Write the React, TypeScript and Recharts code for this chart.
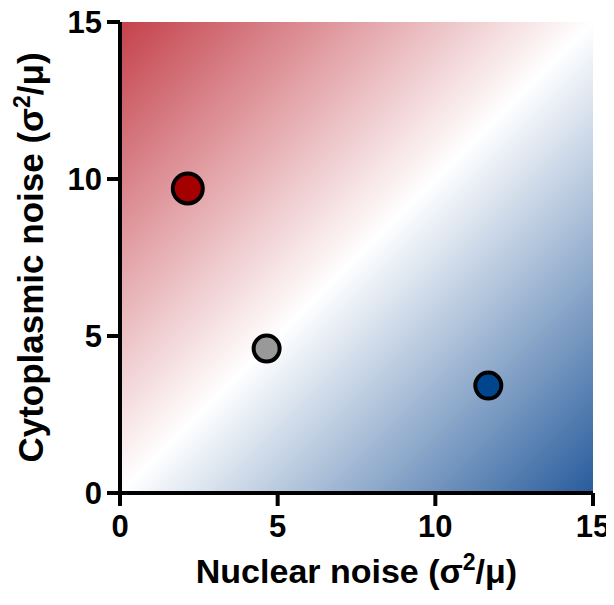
import React from "react";
import {
  ScatterChart,
  Scatter,
  XAxis,
  YAxis,
  ReferenceArea,
  Cell,
} from "recharts";

const nuclearNoise = [2.15, 4.65, 11.68];
const cytoplasmicNoise = [9.7, 4.6, 3.42];
const pointFills = ["#a50000", "#999999", "#00468f"];
const pointRadii = [15, 13, 13];
const axisTicks = [0, 5, 10, 15];

const data = nuclearNoise.map((x, i) => ({ x, y: cytoplasmicNoise[i], i }));

const FONT = "'Liberation Sans', Arial, Helvetica, sans-serif";

const Dot = (props: any) => {
  const { cx, cy, payload } = props;
  const i = payload.i;
  return (
    <circle
      cx={cx}
      cy={cy}
      r={pointRadii[i]}
      fill={pointFills[i]}
      stroke="#000"
      strokeWidth={4}
    />
  );
};

const XLabel = (props: any) => {
  const vb = props.viewBox;
  const cx = vb.x + vb.width / 2;
  return (
    <text
      x={cx}
      y={vb.y + 90}
      textAnchor="middle"
      fontFamily={FONT}
      fontWeight="bold"
      fontSize={34}
      fill="#000"
    >
      Nuclear noise (σ
      <tspan dy={-13} fontSize={23}>2</tspan>
      <tspan dy={13}>/μ)</tspan>
    </text>
  );
};

const YLabel = (props: any) => {
  const vb = props.viewBox;
  const x = vb.x + 43;
  const y = vb.y + vb.height / 2;
  return (
    <text
      x={x}
      y={y}
      transform={`rotate(-90, ${x}, ${y})`}
      textAnchor="middle"
      fontFamily={FONT}
      fontWeight="bold"
      fontSize={35}
      fill="#000"
    >
      Cytoplasmic noise (σ
      <tspan dy={-13} fontSize={23}>2</tspan>
      <tspan dy={13}>/μ)</tspan>
    </text>
  );
};

export default function App() {
  const tickStyle = {
    fontFamily: FONT,
    fontWeight: "bold" as const,
    fontSize: 31,
    fill: "#000",
  };
  return (
    <div style={{ width: 614, height: 605, margin: "-8px" }}>
      <svg width={0} height={0} style={{ position: "absolute" }}>
        <defs>
          <linearGradient id="bgGrad" x1="0" y1="0" x2="1" y2="1">
            <stop offset="0" stopColor="#c4414b" />
            <stop offset="0.5" stopColor="#ffffff" />
            <stop offset="1" stopColor="#285c9c" />
          </linearGradient>
        </defs>
      </svg>
      <ScatterChart
        width={614}
        height={605}
        margin={{ top: 22, right: 21, bottom: 0, left: 0 }}
      >
        <ReferenceArea
          x1={0}
          x2={15}
          y1={0}
          y2={15}
          fill="url(#bgGrad)"
          fillOpacity={1}
          stroke="none"
          ifOverflow="visible"
        />
        <XAxis
          type="number"
          dataKey="x"
          domain={[0, 15]}
          ticks={axisTicks}
          height={112}
          tickSize={13}
          tickMargin={9}
          axisLine={{ stroke: "#000", strokeWidth: 4 }}
          tickLine={{ stroke: "#000", strokeWidth: 4 }}
          tick={tickStyle}
          interval={0}
          allowDataOverflow
          label={<XLabel />}
        />
        <YAxis
          type="number"
          dataKey="y"
          domain={[0, 15]}
          ticks={axisTicks}
          width={120}
          tickSize={13}
          tickMargin={5}
          axisLine={{ stroke: "#000", strokeWidth: 4 }}
          tickLine={{ stroke: "#000", strokeWidth: 4 }}
          tick={tickStyle}
          interval={0}
          allowDataOverflow
          label={<YLabel />}
        />
        <Scatter data={data} shape={<Dot />} isAnimationActive={false}>
          {data.map((d, i) => (
            <Cell key={i} fill={pointFills[i]} />
          ))}
        </Scatter>
      </ScatterChart>
    </div>
  );
}
